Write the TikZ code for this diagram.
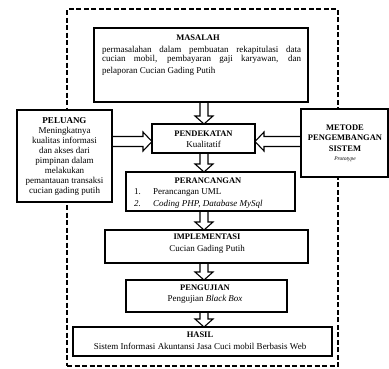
\documentclass[tikz,border=0pt]{standalone}
\usepackage{fontspec}
\setmainfont{Liberation Serif}
\usetikzlibrary{calc}
\pgfdeclarelayer{bg}
\pgfsetlayers{bg,main}
\tikzset{
  frame/.style={draw, dash pattern=on 5pt off 2.5pt, line width=1.2pt, inner sep=0pt, outer sep=0pt},
  box/.style={draw, fill=white, line width=1.3pt, inner sep=0pt, outer sep=0pt},
  head/.style={font=\fontsize{8.5}{10}\selectfont\bfseries, inner sep=0pt, anchor=base},
  body/.style={font=\fontsize{9}{10}\selectfont, inner sep=0pt, anchor=base},
  blockarrow/.style={draw, fill=white, line width=1.1pt, line join=miter},
}
% hollow block arrows between two points
\newcommand\arrdown[2]{\draw[blockarrow] let \p1=#1, \p2=#2 in
  (\x1-4pt,\y1) -- (\x1-4pt,\y2+8pt) -- (\x1-9pt,\y2+8pt) -- (\x1,\y2)
  -- (\x1+9pt,\y2+8pt) -- (\x1+4pt,\y2+8pt) -- (\x1+4pt,\y1);}
\newcommand\arrright[2]{\draw[blockarrow] let \p1=#1, \p2=#2 in
  (\x1,\y1+5pt) -- (\x2-9pt,\y1+5pt) -- (\x2-9pt,\y1+9.5pt) -- (\x2,\y1)
  -- (\x2-9pt,\y1-9.5pt) -- (\x2-9pt,\y1-5pt) -- (\x1,\y1-5pt);}
\newcommand\arrleft[2]{\draw[blockarrow] let \p1=#1, \p2=#2 in
  (\x1,\y1+5pt) -- (\x2+9pt,\y1+5pt) -- (\x2+9pt,\y1+9.5pt) -- (\x2,\y1)
  -- (\x2+9pt,\y1-9.5pt) -- (\x2+9pt,\y1-5pt) -- (\x1,\y1-5pt);}
\begin{document}
\begin{tikzpicture}[x=1pt,y=-1pt]
\useasboundingbox (0,0) rectangle (389,368);
% dashed outer frame
\node[frame, minimum width=271pt, minimum height=357pt] (frame) at (202.5,187.5) {};
% boxes
\node[box, minimum width=214pt, minimum height=74pt] (masalah) at (201,65) {};
\node[box, minimum width=95pt, minimum height=92pt] (peluang) at (64.5,156) {};
\node[box, minimum width=87pt, minimum height=68pt] (metode) at (344.5,143) {};
\node[box, minimum width=103pt, minimum height=29pt] (pendekatan) at (203.5,138.5) {};
\node[box, minimum width=169pt, minimum height=39pt] (perancangan) at (210.5,191.5) {};
\node[box, minimum width=203pt, minimum height=33pt] (implementasi) at (206.5,246.5) {};
\node[box, minimum width=161pt, minimum height=32pt] (pengujian) at (206.5,296) {};
\node[box, minimum width=259pt, minimum height=29pt] (hasil) at (202.5,341.5) {};
% texts
\node[head] (tmas) at (198,40.5) {MASALAH};
\node[body, anchor=base west] (tmas1) at (102,52.5) {\makebox[199pt][s]{permasalahan dalam pembuatan rekapitulasi data}};
\node[body, anchor=base west] (tmas2) at (102,61.5) {\makebox[199pt][s]{cucian mobil, pembayaran gaji karyawan, dan}};
\node[body, anchor=base west] (tmas3) at (102,73.5) {pelaporan Cucian Gading Putih};
\node[body, anchor=center, align=center, font=\fontsize{9}{10}\selectfont] (tpel) at (64.5,156)
  {\textbf{PELUANG}\\Meningkatnya\\kualitas informasi\\dan akses dari\\pimpinan dalam\\melakukan\\pemantauan transaksi\\cucian gading putih};
\node[body, anchor=center, align=center, font=\fontsize{8.5}{10.5}\selectfont] (tmet) at (345,143)
  {\textbf{METODE}\\\textbf{PENGEMBANGAN}\\\textbf{SISTEM}\\[-1.5pt]{\fontsize{5.5}{6}\selectfont\itshape Prototype}};
\node[head] (tpen) at (203.5,136.5) {PENDEKATAN};
\node[body] (tpen1) at (203.5,147.5) {Kualitatif};
\node[head] (tper) at (208,183.5) {PERANCANGAN};
\node[body, anchor=base west] (tper1n) at (134,194.5) {1.};
\node[body, anchor=base west] (tper1) at (153,194.5) {Perancangan UML};
\node[body, anchor=base west] (tper2n) at (134,206.5) {\itshape 2.};
\node[body, anchor=base west] (tper2) at (153,206.5) {\itshape Coding PHP, Database MySql};
\node[head] (timp) at (207,239.5) {IMPLEMENTASI};
\node[body] (timp1) at (207,251.5) {Cucian Gading Putih};
\node[head] (tuji) at (205,290.5) {PENGUJIAN};
\node[body] (tuji1) at (205,301.5) {Pengujian \textit{Black Box}};
\node[head] (thas) at (200,337.5) {HASIL};
\node[body] (thas1) at (200,349.5) {Sistem Informasi Akuntansi Jasa Cuci mobil Berbasis Web};
% connectors
\coordinate (vaxis) at (204,0);
\coordinate (hrow) at (0,141.5);
\begin{pgfonlayer}{bg}
\arrdown{(masalah.south -| vaxis)}{(pendekatan.north -| vaxis)}
\arrdown{(pendekatan.south -| vaxis)}{(perancangan.north -| vaxis)}
\arrdown{(perancangan.south -| vaxis)}{(implementasi.north -| vaxis)}
\arrdown{(implementasi.south -| vaxis)}{(pengujian.north -| vaxis)}
\arrdown{(pengujian.south -| vaxis)}{(hasil.north -| vaxis)}
\arrright{(peluang.east |- hrow)}{(pendekatan.west |- hrow)}
\arrleft{(metode.west |- hrow)}{(pendekatan.east |- hrow)}
\end{pgfonlayer}
\end{tikzpicture}
\end{document}
